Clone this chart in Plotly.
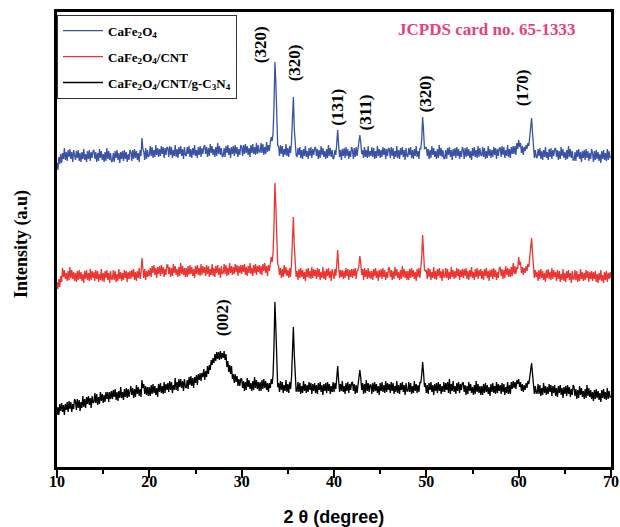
import numpy as np
import plotly.graph_objects as go

# 2-theta grid (degrees): 10.0 to 70.0 in 0.1 steps
TWO_THETA_START = 10.0
TWO_THETA_STEP = 0.1

# Intensities (a.u., stacked as plotted); one row = 2 degrees
cafe2o4 = [
    304, 297, 310, 303, 313, 304, 314, 308, 319, 307, 315, 306, 317, 310, 318, 308, 315, 305, 317, 309,
    307, 316, 309, 317, 306, 314, 305, 315, 308, 318, 307, 313, 305, 316, 308, 317, 306, 315, 309, 316,
    317, 308, 315, 305, 314, 306, 318, 309, 316, 307, 313, 305, 315, 306, 319, 308, 316, 307, 314, 305,
    306, 314, 305, 316, 309, 317, 307, 314, 304, 315, 308, 316, 306, 317, 308, 315, 305, 313, 307, 317,
    315, 306, 317, 308, 318, 309, 316, 307, 314, 305, 317, 311, 329, 318, 315, 307, 319, 308, 317, 310,
    312, 321, 311, 320, 309, 317, 310, 322, 312, 319, 310, 318, 311, 321, 313, 320, 309, 319, 312, 320,
    319, 310, 321, 312, 320, 309, 317, 311, 322, 310, 318, 309, 320, 313, 321, 311, 318, 308, 320, 312,
    311, 320, 313, 321, 310, 318, 309, 319, 312, 322, 311, 317, 309, 320, 312, 321, 310, 319, 313, 320,
    322, 313, 320, 310, 319, 311, 323, 314, 321, 312, 318, 310, 320, 311, 324, 313, 321, 312, 319, 310,
    311, 319, 310, 321, 314, 322, 312, 319, 309, 320, 313, 321, 311, 322, 313, 320, 310, 318, 312, 322,
    320, 311, 322, 313, 323, 314, 321, 312, 319, 310, 322, 314, 323, 313, 320, 312, 324, 313, 322, 315,
    315, 324, 314, 323, 312, 320, 313, 325, 315, 322, 316, 324, 330, 326, 334, 360, 405, 385, 340, 322,
    320, 311, 322, 313, 321, 310, 318, 312, 323, 311, 319, 310, 321, 314, 325, 352, 370, 338, 318, 312,
    310, 319, 312, 320, 309, 317, 308, 318, 311, 321, 310, 316, 308, 319, 311, 320, 309, 318, 312, 319,
    320, 311, 318, 308, 317, 309, 321, 312, 319, 310, 316, 308, 318, 309, 322, 311, 319, 310, 317, 308,
    309, 317, 312, 324, 337, 322, 310, 317, 307, 318, 311, 319, 309, 320, 311, 318, 308, 316, 310, 320,
    317, 308, 319, 310, 320, 311, 318, 322, 332, 324, 313, 317, 309, 320, 310, 317, 309, 321, 310, 316,
    311, 320, 310, 319, 308, 316, 309, 321, 311, 318, 309, 317, 310, 320, 312, 319, 308, 318, 311, 319,
    318, 309, 320, 311, 319, 308, 316, 310, 321, 309, 317, 308, 319, 312, 320, 310, 317, 307, 319, 311,
    310, 319, 312, 320, 309, 317, 308, 318, 311, 321, 310, 316, 308, 319, 318, 328, 350, 336, 318, 319,
    320, 311, 318, 308, 317, 309, 321, 312, 319, 310, 316, 308, 318, 309, 322, 311, 319, 310, 317, 308,
    309, 317, 308, 319, 312, 320, 310, 317, 307, 318, 311, 319, 309, 320, 311, 318, 308, 316, 310, 320,
    317, 308, 319, 310, 320, 311, 318, 309, 316, 307, 319, 311, 320, 310, 317, 309, 321, 310, 319, 312,
    311, 320, 310, 319, 308, 316, 309, 321, 311, 318, 309, 317, 310, 320, 312, 319, 308, 318, 311, 319,
    319, 310, 321, 312, 320, 309, 317, 311, 322, 310, 318, 309, 320, 313, 321, 313, 321, 312, 324, 318,
    327, 320, 324, 314, 321, 312, 320, 316, 322, 318, 324, 321, 330, 338, 349, 334, 318, 309, 317, 310,
    309, 318, 311, 319, 308, 316, 307, 317, 310, 320, 309, 315, 307, 318, 310, 319, 308, 317, 311, 318,
    319, 310, 317, 307, 316, 308, 320, 311, 318, 309, 315, 307, 317, 308, 321, 310, 318, 309, 316, 307,
    307, 315, 306, 317, 310, 318, 308, 315, 305, 316, 309, 317, 307, 318, 309, 316, 306, 314, 308, 318,
    314, 305, 316, 307, 317, 308, 315, 306, 313, 304, 316, 308, 317, 307, 314, 306, 318, 307, 316, 309,
    310,
]

cafe2o4_cnt = [
    185, 178, 188, 180, 191, 185, 199, 190, 197, 188, 194, 186, 196, 187, 200, 189, 197, 188, 195, 186,
    194, 185, 196, 187, 197, 188, 195, 186, 193, 184, 196, 188, 197, 187, 194, 186, 198, 187, 196, 189,
    195, 186, 197, 188, 196, 185, 193, 187, 198, 186, 194, 185, 196, 189, 197, 187, 194, 184, 196, 188,
    188, 197, 187, 196, 185, 193, 186, 198, 188, 195, 186, 194, 187, 197, 189, 196, 185, 195, 188, 196,
    188, 197, 190, 198, 187, 195, 186, 196, 189, 199, 188, 194, 209, 199, 189, 198, 187, 196, 190, 197,
    191, 199, 190, 201, 194, 202, 192, 199, 189, 200, 193, 201, 191, 202, 193, 200, 190, 198, 192, 202,
    202, 193, 200, 190, 199, 191, 203, 194, 201, 192, 198, 190, 200, 191, 204, 193, 201, 192, 199, 190,
    199, 190, 201, 192, 202, 193, 200, 191, 198, 189, 201, 193, 202, 192, 199, 191, 203, 192, 201, 194,
    200, 191, 202, 193, 201, 190, 198, 192, 203, 191, 199, 190, 201, 194, 202, 192, 199, 189, 201, 193,
    194, 203, 193, 202, 191, 199, 192, 204, 194, 201, 192, 200, 193, 203, 195, 202, 191, 201, 194, 202,
    193, 202, 195, 203, 192, 200, 191, 201, 194, 204, 193, 199, 191, 202, 194, 203, 192, 201, 195, 202,
    193, 201, 192, 203, 196, 204, 194, 201, 191, 202, 196, 203, 210, 205, 214, 240, 284, 262, 218, 203,
    201, 192, 199, 189, 198, 190, 202, 193, 200, 191, 197, 189, 199, 190, 204, 228, 250, 221, 199, 190,
    196, 187, 198, 189, 199, 190, 197, 188, 195, 186, 198, 190, 199, 189, 196, 188, 200, 189, 198, 191,
    197, 188, 199, 190, 198, 187, 195, 189, 200, 188, 196, 187, 198, 191, 199, 189, 196, 186, 198, 190,
    188, 198, 191, 203, 217, 201, 189, 197, 190, 197, 188, 196, 189, 199, 191, 198, 187, 197, 190, 198,
    189, 198, 191, 199, 188, 196, 197, 201, 211, 203, 192, 198, 187, 199, 190, 197, 188, 199, 189, 196,
    188, 196, 187, 198, 191, 199, 189, 196, 186, 197, 190, 198, 188, 199, 190, 197, 187, 195, 189, 199,
    199, 190, 197, 187, 196, 188, 200, 191, 198, 189, 195, 187, 197, 188, 201, 190, 198, 189, 196, 187,
    196, 187, 198, 189, 199, 190, 197, 188, 195, 186, 198, 190, 199, 189, 198, 210, 232, 215, 197, 196,
    197, 188, 199, 190, 198, 187, 195, 189, 200, 188, 196, 187, 198, 191, 199, 189, 196, 186, 198, 190,
    190, 199, 189, 198, 187, 195, 188, 200, 190, 197, 188, 196, 189, 199, 191, 198, 187, 197, 190, 198,
    189, 198, 191, 199, 188, 196, 187, 197, 190, 200, 189, 195, 187, 198, 190, 199, 188, 197, 191, 198,
    188, 196, 187, 198, 191, 199, 189, 196, 186, 197, 190, 198, 188, 199, 190, 197, 187, 195, 189, 199,
    200, 191, 198, 188, 197, 189, 201, 192, 199, 190, 198, 190, 200, 191, 204, 193, 201, 193, 200, 198,
    210, 202, 205, 194, 200, 192, 199, 194, 201, 196, 203, 200, 208, 216, 229, 214, 198, 189, 197, 190,
    195, 186, 197, 188, 198, 189, 196, 187, 194, 185, 197, 189, 198, 188, 195, 187, 199, 188, 197, 190,
    195, 186, 197, 188, 196, 185, 193, 187, 198, 186, 194, 185, 196, 189, 197, 187, 194, 184, 196, 188,
    188, 197, 187, 196, 185, 193, 186, 198, 188, 195, 186, 194, 187, 197, 189, 196, 185, 195, 188, 196,
    186, 195, 188, 196, 185, 193, 184, 194, 187, 197, 186, 192, 184, 195, 187, 196, 185, 194, 188, 195,
    189,
]

cafe2o4_cnt_gc3n4 = [
    52, 60, 52, 63, 56, 64, 55, 62, 52, 63, 57, 65, 55, 66, 58, 65, 55, 63, 58, 68,
    66, 57, 68, 59, 67, 56, 65, 59, 71, 60, 68, 59, 70, 63, 71, 62, 69, 59, 71, 64,
    65, 74, 64, 73, 62, 70, 63, 75, 66, 73, 64, 72, 65, 75, 68, 75, 65, 75, 68, 76,
    68, 77, 70, 78, 67, 75, 66, 76, 69, 80, 69, 75, 67, 78, 70, 79, 69, 78, 70, 79,
    81, 72, 79, 69, 78, 70, 82, 73, 80, 71, 78, 70, 87, 79, 83, 73, 81, 72, 80, 71,
    80, 71, 82, 73, 83, 74, 81, 72, 79, 70, 83, 75, 84, 74, 81, 73, 85, 74, 83, 77,
    84, 75, 86, 77, 85, 74, 82, 77, 89, 77, 85, 76, 88, 80, 88, 79, 86, 76, 88, 80,
    79, 87, 78, 90, 82, 91, 81, 89, 79, 90, 84, 92, 82, 93, 87, 94, 86, 94, 90, 98,
    87, 96, 90, 101, 93, 102, 97, 107, 102, 109, 104, 113, 106, 115, 108, 115, 107, 116, 108, 114,
    109, 116, 107, 113, 100, 106, 95, 102, 93, 101, 88, 93, 84, 93, 85, 91, 81, 88, 81, 88,
    88, 79, 86, 76, 85, 77, 89, 80, 87, 78, 84, 76, 86, 77, 90, 79, 87, 78, 85, 76,
    85, 76, 87, 78, 88, 79, 86, 77, 84, 75, 84, 79, 88, 83, 92, 120, 165, 140, 95, 80,
    84, 75, 86, 77, 85, 74, 82, 76, 87, 75, 83, 74, 85, 78, 90, 115, 140, 112, 84, 76,
    76, 85, 75, 84, 73, 81, 74, 86, 76, 83, 74, 82, 75, 85, 77, 84, 73, 83, 76, 84,
    74, 82, 73, 84, 77, 85, 75, 82, 72, 83, 76, 84, 74, 85, 76, 83, 73, 81, 75, 85,
    75, 84, 78, 90, 101, 87, 75, 83, 76, 86, 75, 81, 73, 84, 76, 85, 74, 83, 77, 84,
    85, 76, 83, 73, 82, 74, 84, 88, 97, 89, 77, 84, 73, 83, 74, 87, 76, 84, 75, 82,
    82, 73, 84, 75, 85, 76, 83, 74, 81, 72, 84, 76, 85, 75, 82, 74, 86, 75, 84, 77,
    83, 74, 85, 76, 84, 73, 81, 75, 86, 74, 82, 73, 84, 77, 85, 75, 82, 72, 84, 76,
    76, 85, 75, 84, 73, 81, 74, 86, 76, 83, 74, 82, 75, 85, 84, 92, 105, 94, 80, 84,
    74, 82, 73, 84, 77, 85, 75, 82, 72, 83, 76, 84, 74, 85, 76, 83, 73, 81, 75, 85,
    75, 84, 77, 85, 74, 88, 73, 83, 76, 86, 75, 81, 73, 84, 76, 85, 74, 83, 77, 84,
    84, 75, 82, 72, 81, 73, 85, 76, 83, 74, 80, 72, 82, 73, 86, 75, 83, 74, 81, 72,
    81, 72, 83, 74, 84, 75, 82, 73, 80, 71, 83, 75, 84, 74, 81, 73, 85, 74, 83, 76,
    82, 73, 84, 75, 83, 72, 80, 74, 85, 73, 82, 73, 85, 78, 86, 79, 85, 78, 87, 83,
    88, 80, 85, 76, 83, 75, 82, 77, 84, 79, 86, 83, 89, 95, 104, 93, 80, 73, 81, 74,
    74, 83, 73, 82, 71, 79, 72, 84, 74, 81, 72, 80, 73, 83, 75, 82, 71, 81, 74, 82,
    71, 79, 70, 81, 74, 82, 72, 79, 69, 80, 73, 81, 71, 82, 73, 80, 70, 78, 72, 82,
    80, 71, 78, 68, 77, 69, 81, 72, 79, 70, 76, 68, 78, 69, 82, 71, 79, 70, 77, 68,
    75, 66, 77, 68, 78, 69, 76, 67, 74, 65, 77, 69, 78, 68, 75, 67, 79, 68, 76, 70,
    70,
]

series_names = [
    "CaFe<sub>2</sub>O<sub>4</sub>",
    "CaFe<sub>2</sub>O<sub>4</sub>/CNT",
    "CaFe<sub>2</sub>O<sub>4</sub>/CNT/g-C<sub>3</sub>N<sub>4</sub>",
]
series_colors = ["#3A52A6", "#EE3430", "#000000"]

x_tick_values = [10, 20, 30, 40, 50, 60, 70]
x_tick_labels = ["10", "20", "30", "40", "50", "60", "70"]

peak_labels = ["(320)", "(320)", "(131)", "(311)", "(320)", "(170)", "(002)"]
peak_label_x = [32.0, 35.7, 40.3, 43.4, 49.9, 60.4, 27.9]
peak_label_y = [422, 404, 360, 355, 373, 379, 149]

serif = "Liberation Serif, Times New Roman, serif"
sans = "Liberation Sans, Arial, sans-serif"

fig = go.Figure()
for name, ys, col in zip(series_names, [cafe2o4, cafe2o4_cnt, cafe2o4_cnt_gc3n4], series_colors):
    two_theta = np.round(TWO_THETA_START + TWO_THETA_STEP * np.arange(len(ys)), 2)
    fig.add_trace(go.Scatter(
        x=two_theta, y=ys, mode="lines", name=name, legendgroup=name,
        line=dict(color=col, width=1.3),
    ))

for lab, lx, ly in zip(peak_labels, peak_label_x, peak_label_y):
    fig.add_annotation(
        x=lx, y=ly, xref="x", yref="y", text=lab, textangle=-90, showarrow=False,
        xanchor="center", yanchor="middle",
        font=dict(family=serif, size=17, color="black", weight="bold"),
    )

# JCPDS reference label (paper coordinates)
fig.add_annotation(
    x=(487 - 57) / 554, y=1 - (30 - 12) / 455, xref="paper", yref="paper",
    xanchor="center", yanchor="middle",
    text="JCPDS card no. 65-1333", showarrow=False,
    font=dict(family=serif, size=17, color="#E8407A", weight="bold"),
)

# y-axis title
fig.add_annotation(
    x=(21 - 57) / 554, y=0.49, xref="paper", yref="paper",
    xanchor="center", yanchor="middle", textangle=-90,
    text="Intensity (a.u)", showarrow=False,
    font=dict(family=serif, size=18, color="black", weight="bold"),
)

fig.update_layout(
    width=620, height=527,
    margin=dict(l=57, r=9, t=12, b=60, autoexpand=False),
    paper_bgcolor="white", plot_bgcolor="white",
    showlegend=True,
    legend=dict(
        x=0.0, y=0.994, xanchor="left", yanchor="top",
        bordercolor="#333333", borderwidth=1, bgcolor="rgba(255,255,255,0)",
        font=dict(family=serif, size=13, color="black", weight="bold"),
        traceorder="grouped", tracegroupgap=6, itemwidth=40,
    ),
    xaxis=dict(
        range=[10, 70], tickmode="array", tickvals=x_tick_values, ticktext=x_tick_labels,
        ticks="outside", ticklen=8, tickwidth=2, tickcolor="black", ticklabelstandoff=-10,
        minor=dict(dtick=5, tick0=10, ticks="outside", ticklen=4, tickwidth=2, tickcolor="black"),
        showline=True, linecolor="black", linewidth=2.5, mirror=True,
        showgrid=False, zeroline=False, automargin=False,
        tickfont=dict(family=serif, size=16, color="black", weight="bold"),
        title=dict(text="2 θ (degree)", standoff=22,
                   font=dict(family=sans, size=18, color="black", weight="bold")),
    ),
    yaxis=dict(
        range=[0, 455], showticklabels=False, ticks="",
        showline=True, linecolor="black", linewidth=2.5, mirror=True,
        showgrid=False, zeroline=False, automargin=False,
    ),
)

fig.write_html("out.html", config={"displayModeBar": False},
               post_script="document.body.style.margin='0px';")
